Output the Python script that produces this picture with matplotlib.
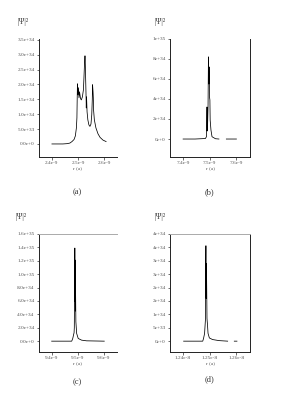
import numpy as np
import matplotlib
matplotlib.use("Agg")
import matplotlib.pyplot as plt

plt.rcParams['font.family'] = ['Liberation Serif', 'DejaVu Serif']

# r in units of 1e-9, |psi|^2 in units of 1e34 ; NaN = gap in the trace
r_a = [2.400, 2.431, 2.442, 2.458, 2.469, 2.477, 2.485, 2.490, 2.494, 2.496, 2.497,
       2.498, 2.500, 2.502, 2.504, 2.506, 2.510, 2.513, 2.517, 2.521, 2.523, 2.525,
       2.527, 2.528, 2.529, 2.531, 2.532, 2.533, 2.535, 2.538, 2.542, 2.546, 2.550,
       2.553, 2.555, 2.556, 2.558, 2.559, 2.560, 2.563, 2.569, 2.577, 2.585, 2.596,
       2.608]
psi_a = [0.0, 0.0, 0.0, 0.01, 0.03, 0.08, 0.15, 0.27, 0.54, 0.88, 1.48,
         2.02, 1.65, 1.89, 1.55, 1.75, 1.52, 1.48, 1.58, 1.82, 2.22, 2.66,
         2.96, 2.76, 2.40, 1.65, 1.21, 1.58, 1.08, 0.81, 0.64, 0.59, 0.67,
         0.98, 1.48, 1.99, 1.75, 1.55, 1.14, 0.81, 0.54, 0.34, 0.22, 0.13,
         0.08]

r_b = [7.400, 7.445, 7.484, 7.488, 7.490, 7.491, 7.492, 7.494, 7.4955, 7.497,
       7.498, 7.500, 7.501, 7.502, 7.505, 7.509, 7.522, 7.535, np.nan, 7.563, 7.601]
psi_b = [0.0, 0.0, 0.05, 0.23, 3.2, 0.8, 1.07, 3.2, 8.2, 5.5,
         7.2, 4.1, 3.9, 1.9, 0.9, 0.23, 0.03, 0.0, np.nan, 0.0, 0.0]

r_c = [9.399, 9.476, 9.480, 9.484, 9.485, 9.486, 9.487, 9.4875, 9.488, 9.4885,
       9.489, 9.490, 9.491, 9.492, 9.495, 9.501, 9.514, 9.533, 9.601]
psi_c = [0.0, 0.0, 0.4, 1.1, 1.24, 2.0, 9.0, 5.9, 13.9, 6.0,
         12.1, 4.5, 7.0, 2.9, 1.15, 0.4, 0.15, 0.05, 0.0]

r_d = [12.402, 12.474, 12.477, 12.481, 12.484, 12.485, 12.486, 12.487, 12.488,
       12.489, 12.490, 12.492, 12.494, 12.499, 12.511, 12.536, 12.568, np.nan,
       12.593, 12.603]
psi_d = [0.0, 0.0, 0.1, 0.29, 0.78, 2.4, 3.56, 1.6, 2.9,
         1.98, 0.85, 0.6, 0.29, 0.12, 0.06, 0.02, 0.0, np.nan,
         0.0, 0.0]

panels = [
    dict(r=r_a, psi=psi_a, rscale=1e-9, pscale=1e34,
         xticks=[2.4e-9, 2.5e-9, 2.6e-9], xlabels=["2.4e-9", "2.5e-9", "2.6e-9"],
         xlim=(2.35e-9, 2.65e-9),
         yticks=[0, 5e33, 1e34, 1.5e34, 2e34, 2.5e34, 3e34, 3.5e34],
         ylabels=["0.0e+0", "5.0e+33", "1.0e+34", "1.5e+34", "2.0e+34", "2.5e+34",
                  "3.0e+34", "3.5e+34"],
         ylim=(-0.44e34, 3.53e34), tag="(a)",
         pos=[0.137, 0.616, 0.275, 0.289], top=False, right=False,
         ylab=(0.081, 0.946), tagpos=(0.271, 0.531)),
    dict(r=r_b, psi=psi_b, rscale=1e-9, pscale=1e34,
         xticks=[7.4e-9, 7.5e-9, 7.6e-9], xlabels=["7.4e-9", "7.5e-9", "7.6e-9"],
         xlim=(7.351e-9, 7.653e-9),
         yticks=[0, 2e34, 4e34, 6e34, 8e34, 1e35],
         ylabels=["0e+0", "2e+34", "4e+34", "6e+34", "8e+34", "1e+35"],
         ylim=(-0.18e35, 1.0e35), tag="(b)",
         pos=[0.599, 0.616, 0.282, 0.289], top=False, right=True,
         ylab=(0.563, 0.946), tagpos=(0.736, 0.531)),
    dict(r=r_c, psi=psi_c, rscale=1e-9, pscale=1e34,
         xticks=[9.4e-9, 9.5e-9, 9.6e-9], xlabels=["9.4e-9", "9.5e-9", "9.6e-9"],
         xlim=(9.35e-9, 9.65e-9),
         yticks=[0, 2e34, 4e34, 6e34, 8e34, 1e35, 1.2e35, 1.4e35, 1.6e35],
         ylabels=["0.0e+0", "2.0e+34", "4.0e+34", "6.0e+34", "8.0e+34", "1.0e+35",
                  "1.2e+35", "1.4e+35", "1.6e+35"],
         ylim=(-0.164e35, 1.6e35), tag="(c)",
         pos=[0.137, 0.139, 0.275, 0.289], top=True, right=False,
         ylab=(0.074, 0.469), tagpos=(0.271, 0.066)),
    dict(r=r_d, psi=psi_d, rscale=1e-9, pscale=1e34,
         xticks=[1.24e-8, 1.25e-8, 1.26e-8], xlabels=["1.24e-8", "1.25e-8", "1.26e-8"],
         xlim=(1.2351e-8, 1.2653e-8),
         yticks=[0, 5e33, 1e34, 1.5e34, 2e34, 2.5e34, 3e34, 3.5e34, 4e34],
         ylabels=["0e+0", "5e+33", "1e+34", "2e+34", "2e+34", "3e+34", "3e+34",
                  "4e+34", "4e+34"],
         ylim=(-0.41e34, 4.0e34), tag="(d)",
         pos=[0.599, 0.139, 0.282, 0.289], top=True, right=True,
         ylab=(0.563, 0.469), tagpos=(0.736, 0.073)),
]

fig = plt.figure(figsize=(2.84, 4.09), dpi=100)

for p in panels:
    ax = fig.add_axes(p["pos"])
    x = np.array(p["r"]) * p["rscale"]
    y = np.array(p["psi"]) * p["pscale"]
    ax.plot(x, y, color="black", lw=0.55)
    ax.set_xlim(*p["xlim"])
    ax.set_ylim(*p["ylim"])
    ax.set_xticks(p["xticks"])
    ax.set_xticklabels(p["xlabels"])
    ax.set_yticks(p["yticks"])
    ax.set_yticklabels(p["ylabels"])
    ax.tick_params(labelsize=3.8, length=1.8, width=0.5, pad=1.3,
                   labelcolor="#555555", color="#333333")
    for side in ["left", "bottom"]:
        ax.spines[side].set_linewidth(0.7)
        ax.spines[side].set_color("#222222")
    ax.spines["right"].set_visible(p["right"])
    ax.spines["right"].set_linewidth(0.7)
    ax.spines["right"].set_color("#222222")
    ax.spines["top"].set_visible(p["top"])
    ax.spines["top"].set_linewidth(0.7)
    ax.spines["top"].set_color("#aaaaaa")
    ax.set_xlabel("r (a)", fontsize=3.8, color="#555555", labelpad=1.3)
    fig.text(p["ylab"][0], p["ylab"][1], "|\u03a8|\u00b2", fontsize=5.5,
             ha="center", va="center", color="#333333")
    fig.text(p["tagpos"][0], p["tagpos"][1], p["tag"], fontsize=6,
             ha="center", va="center", color="#333333")

fig.savefig("out.png", dpi=100)
